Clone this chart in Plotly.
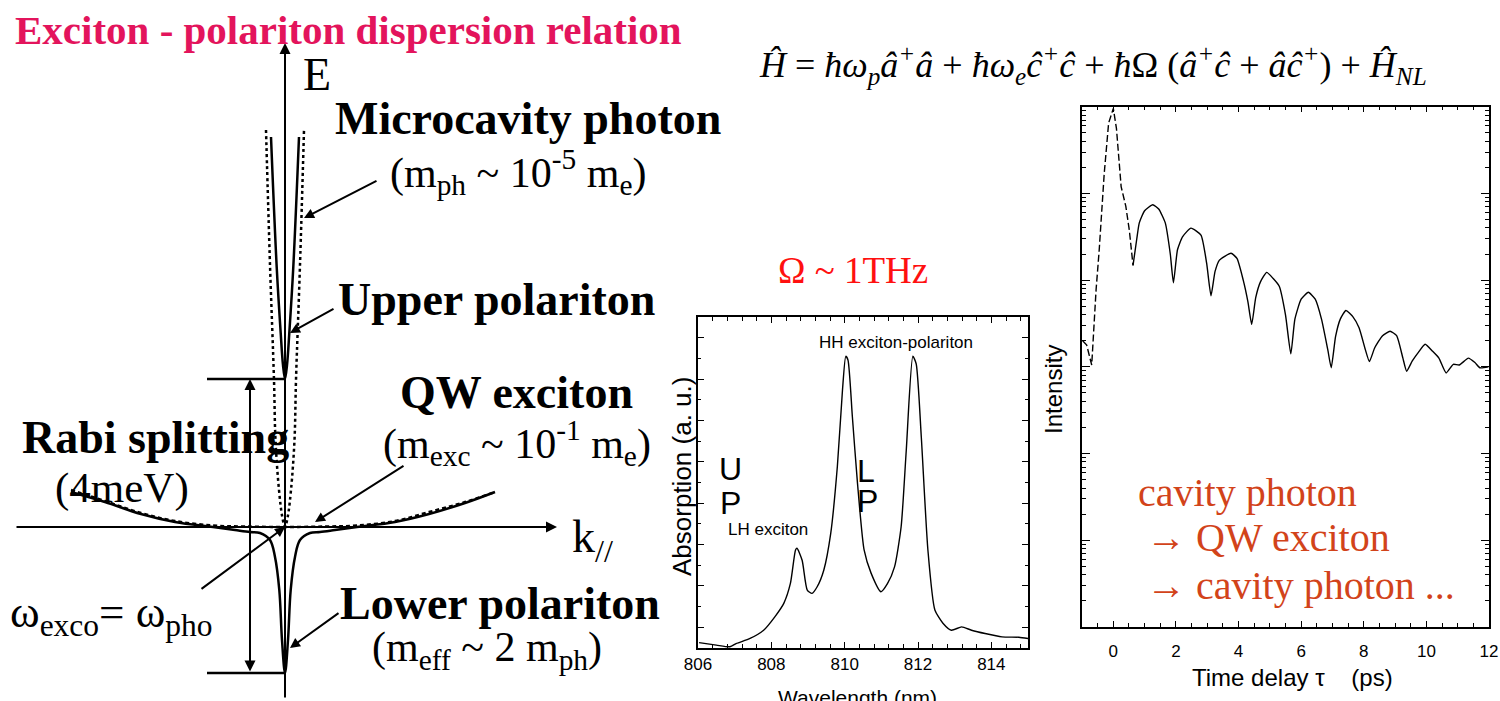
import plotly.graph_objects as go

W, H = 1500, 701
SERIF = "Liberation Serif"
SANS = "Liberation Sans"
TITLE_COLOR = "#E3145C"
NOTE_COLOR = "#D2431A"

# ---------------- dispersion sketch (arbitrary units, origin at the crossing point)
photon_k = [-19, -15, -11, -9.5, -6, -2.7, 0, 2.7, 6, 9.5, 11, 15, 19]
photon_E = [397, 262, 147, 87, 37, 10, 0, 10, 37, 87, 147, 262, 397]

exciton_k = [-214, -180, -144, -110, -72, -40, 0, 40, 72, 110, 144, 180, 210]
exciton_E = [37, 26, 14, 6, 1.5, 0.5, 0, 0.5, 1.5, 6, 15, 25, 35]

upper_k = [-14, -8.3, -4.3, -2, 0, 2, 4.3, 8.3, 14]
upper_E = [390, 260, 194, 162, 148, 162, 194, 260, 390]

lower_k = [-214, -180, -144, -110, -72, -50, -35, -25, -15, -10, -5.7, -3, 0,
           3, 5.7, 10, 15, 25, 35, 50, 72, 110, 144, 180, 210]
lower_E = [35, 25, 13, 5, 0, -3, -5, -6, -13, -30, -63, -113, -146,
           -113, -63, -30, -13, -6, -5, -3, 0, 5, 13, 24, 35]

# ---------------- absorption spectrum
wavelength_nm = [806.03, 806.5, 806.87, 807.05, 807.42, 807.79, 808.1, 808.34, 808.52,
                 808.66, 808.7, 808.84, 808.98, 809.11, 809.25, 809.43, 809.62, 809.8,
                 809.94, 810.03, 810.09, 810.21, 810.35, 810.53, 810.72, 810.99, 811.17,
                 811.36, 811.54, 811.68, 811.86, 811.95, 812.09, 812.27, 812.46, 812.68,
                 812.91, 813.19, 813.46, 813.83, 814.29, 814.75, 815.0]
absorption_au = [0.13, 0.07, 0.03, 0.11, 0.23, 0.43, 0.76, 1.08, 1.56,
                 2.37, 2.41, 2.12, 1.40, 1.32, 1.48, 1.88, 2.77, 4.38,
                 6.23, 7.05, 6.96, 5.59, 3.98, 2.37, 1.81, 1.36, 1.56,
                 1.96, 2.93, 4.78, 7.05, 6.87, 5.10, 2.37, 0.92, 0.60,
                 0.43, 0.51, 0.43, 0.35, 0.27, 0.26, 0.23]

# ---------------- time-resolved intensity (log scale)
delay_ps = [-0.98, -0.85, -0.69, -0.62, -0.55, -0.45, -0.39, -0.29, -0.15, 0.0, 0.1, 0.25,
            0.4, 0.51, 0.63, 0.75, 0.83, 1.0, 1.26, 1.45, 1.66, 1.82, 1.92, 2.05, 2.21, 2.48,
            2.8, 2.98, 3.12, 3.25, 3.39, 3.76, 3.95, 4.15, 4.3, 4.42, 4.55, 4.7, 4.9,
            5.1, 5.3, 5.5, 5.67, 5.8, 6.0, 6.23, 6.45, 6.65, 6.85, 6.96, 7.1, 7.25,
            7.43, 7.65, 7.85, 8.05, 8.18, 8.35, 8.6, 8.84, 9.05, 9.25, 9.37, 9.55,
            9.75, 9.96, 10.2, 10.4, 10.63, 10.86, 11.05, 11.34, 11.55, 11.71, 11.98]
intensity = [2000, 1780, 1050, 2820, 7760, 22400, 45700, 170000, 646000, 955000, 562000, 120000,
             70800, 38000, 14800, 30000, 45700, 63100, 74100, 66100, 45700, 20000, 9330, 22400,
             31600, 39800, 33100, 15800, 6610, 12600, 17000, 20400, 17800, 10000, 5620, 3090,
             6310, 9550, 12300, 10500, 8510, 3980, 1410, 3550, 6030, 7240, 6030, 3550, 1580,
             977, 2240, 3550, 4470, 3800, 2820, 1580, 1150, 1660, 2290, 2570, 2290, 1260, 891,
             1170, 1480, 1820, 1510, 1260, 851, 1070, 1050, 1260, 1120, 977, 1000]
first_peak_end = 15  # index where the trace turns from dashed to solid

fig = go.Figure()

# dispersion curves
fig.add_trace(go.Scatter(x=photon_k, y=photon_E, mode="lines", line_shape="spline",
                         line=dict(color="black", width=2.5, dash="3px,3px"),
                         xaxis="x", yaxis="y"))
fig.add_trace(go.Scatter(x=exciton_k, y=exciton_E, mode="lines", line_shape="spline",
                         line=dict(color="black", width=2.4, dash="4px,3px"),
                         xaxis="x", yaxis="y"))
fig.add_trace(go.Scatter(x=upper_k, y=upper_E, mode="lines", line_shape="spline",
                         line=dict(color="black", width=2.5), xaxis="x", yaxis="y"))
fig.add_trace(go.Scatter(x=lower_k, y=lower_E, mode="lines", line_shape="spline",
                         line=dict(color="black", width=2.5), xaxis="x", yaxis="y"))

# Rabi splitting bars at the two polariton minima
up_min = min(upper_E)
lp_min = min(lower_E)
rabi_bar_start = -78
for level in (up_min, lp_min):
    fig.add_trace(go.Scatter(x=[rabi_bar_start, 0], y=[level, level], mode="lines",
                             line=dict(color="black", width=2.5), xaxis="x", yaxis="y"))

# absorption spectrum
fig.add_trace(go.Scatter(x=wavelength_nm, y=absorption_au, mode="lines", line_shape="spline",
                         line=dict(color="black", width=1.4, smoothing=0.6),
                         xaxis="x2", yaxis="y2"))

# intensity vs delay
fig.add_trace(go.Scatter(x=delay_ps[:first_peak_end], y=intensity[:first_peak_end], mode="lines",
                         line=dict(color="black", width=1.4, dash="7px,3px"),
                         xaxis="x3", yaxis="y3"))
fig.add_trace(go.Scatter(x=delay_ps[first_peak_end - 1:], y=intensity[first_peak_end - 1:],
                         mode="lines", line_shape="spline",
                         line=dict(color="black", width=1.4, smoothing=0.5),
                         xaxis="x3", yaxis="y3"))


def dom_x(a, b):
    return [a / W, b / W]


def dom_y(top, bottom):
    return [1 - bottom / H, 1 - top / H]


frame = dict(showline=True, linecolor="black", linewidth=1.5, mirror="ticks",
             ticks="inside", tickcolor="black", showgrid=False, zeroline=False)

fig.update_layout(
    width=W, height=H, autosize=False,
    margin=dict(l=0, r=0, t=0, b=0, pad=0, autoexpand=False),
    paper_bgcolor="white", plot_bgcolor="rgba(0,0,0,0)", showlegend=False,
    xaxis=dict(domain=dom_x(0, 660), range=[-285, 375], visible=False, anchor="y"),
    yaxis=dict(domain=[0, 1], range=[-174, 527], visible=False, anchor="x"),
    xaxis2=dict(domain=dom_x(698, 1028), range=[806, 815], anchor="y2",
                tick0=806, dtick=2, ticklen=6,
                minor=dict(ticks="inside", dtick=0.4, tick0=806, ticklen=4, tickcolor="black"),
                tickfont=dict(family=SANS, size=17, color="black"), **frame),
    yaxis2=dict(domain=dom_y(317, 648), range=[0, 8], anchor="x2",
                tick0=0.5, dtick=1, ticklen=6, showticklabels=False,
                minor=dict(ticks="inside", dtick=0.5, tick0=0, ticklen=3, tickcolor="black"),
                **frame),
    xaxis3=dict(domain=dom_x(1082, 1489), range=[-1, 12], anchor="y3",
                tick0=0, dtick=2, ticklen=6, ticklabelstandoff=8,
                minor=dict(ticks="inside", dtick=0.5, tick0=0, ticklen=4, tickcolor="black"),
                tickfont=dict(family=SANS, size=17, color="black"), **frame),
    yaxis3=dict(domain=dom_y(106.7, 627), type="log", range=[0, 6], anchor="x3",
                dtick=1, ticklen=8, showticklabels=False,
                minor=dict(ticks="inside", dtick="D1", ticklen=4, tickcolor="black"),
                **frame),
)

ann = []


def arrow(head, tail, width=2.0, size=1.0, side="end"):
    a = dict(x=head[0], y=head[1], ax=tail[0], ay=tail[1], xref="x", yref="y",
             axref="x", ayref="y", text="", showarrow=True, arrowhead=2,
             arrowsize=size, arrowwidth=width, arrowcolor="black", arrowside=side,
             standoff=0, startstandoff=0)
    if "start" in side:
        a["startarrowhead"] = 2
        a["startarrowsize"] = size
    return a


# energy and wave-vector axes
ann.append(arrow((0, 484), (0, -172), width=2, size=1.1))
ann.append(arrow((272, 0), (-270, 0), width=2, size=1.1))
# Rabi splitting double arrow
ann.append(arrow((-35, up_min), (-35, lp_min), width=2, size=1.1, side="end+start"))
# pointers to the curves
ann.append(arrow((19, 309), (93, 347)))
ann.append(arrow((5, 194), (50, 219)))
ann.append(arrow((30, 5), (120, 62)))
ann.append(arrow((0, 0), (-85, -63)))
ann.append(arrow((5, -121), (55, -85)))


def label(x, y, text, size, color="black", family=SERIF, xanchor="left", angle=0,
          ref="paper"):
    if ref == "paper":
        xx, yy, xr, yr = x / W, 1 - y / H, "paper", "paper"
    else:
        xx, yy, xr, yr = x, y, ref[0], ref[1]
    return dict(x=xx, y=yy, xref=xr, yref=yr, text=text, showarrow=False,
                xanchor=xanchor, yanchor="middle", textangle=angle, borderpad=0,
                font=dict(family=family, size=size, color=color))


ann += [
    label(14, 30, "<b>Exciton - polariton dispersion relation</b>", 41, TITLE_COLOR),
    label(302, 74, "E", 46),
    label(334, 118, "<b>Microcavity photon</b>", 46),
    label(389, 172, "(m<sub>ph</sub> ~ 10<sup>-5</sup> m<sub>e</sub>)", 42),
    label(337, 300, "<b>Upper polariton</b>", 46),
    label(399, 392, "<b>QW exciton</b>", 46),
    label(382, 443, "(m<sub>exc</sub> ~ 10<sup>-1</sup> m<sub>e</sub>)", 42),
    label(21, 437, "<b>Rabi splitting</b>", 46),
    label(54, 488, "(4meV)", 43),
    label(571, 540, "k<sub>//</sub>", 46),
    label(9, 615, "ω<sub>exco</sub>= ω<sub>pho</sub>", 45),
    label(339, 603, "<b>Lower polariton</b>", 46),
    label(371, 650, "(m<sub>eff</sub> ~ 2 m<sub>ph</sub>)", 42),
    # model Hamiltonian
    label(758, 65,
          "<i>Ĥ</i>\u00a0=\u00a0<i>ħω<sub>p</sub>â<sup>+</sup>â</i>\u00a0+\u00a0"
          "<i>ħω<sub>e</sub>ĉ<sup>+</sup>ĉ</i>\u00a0+\u00a0<i>ħ</i>Ω\u00a0(<i>â<sup>+</sup>ĉ</i>"
          "\u00a0+\u00a0<i>âĉ<sup>+</sup></i>)\u00a0+\u00a0<i>Ĥ<sub>NL</sub></i>", 36),
    # absorption panel
    label(853, 270, "Ω ~ 1THz", 37, "#FF1010", xanchor="center"),
    label(811.41, 7.39, "HH exciton-polariton", 17, family=SANS, xanchor="center",
          ref=("x2", "y2")),
    label(806.88, 4.33, "U", 32, family=SANS, xanchor="center", ref=("x2", "y2")),
    label(806.88, 3.50, "P", 32, family=SANS, xanchor="center", ref=("x2", "y2")),
    label(806.80, 2.86, "LH exciton", 17, family=SANS, ref=("x2", "y2")),
    label(810.58, 4.27, "L", 32, family=SANS, xanchor="center", ref=("x2", "y2")),
    label(810.62, 3.55, "P", 32, family=SANS, xanchor="center", ref=("x2", "y2")),
    label(682, 477, "Absorption (a. u.)", 26, family=SANS, xanchor="center", angle=-90),
    label(857, 697, "Wavelength (nm)", 21, family=SANS, xanchor="center"),
    # delay panel
    label(1053, 390, "Intensity", 24, family=SANS, xanchor="center", angle=-90),
    label(1292, 677, "Time delay τ\u00a0\u00a0\u00a0\u00a0(ps)", 24, family=SANS, xanchor="center"),
    label(1137, 492, "cavity photon", 40, NOTE_COLOR),
    label(1145, 537, "→ QW exciton", 40, NOTE_COLOR),
    label(1145, 585, "→ cavity photon ...", 40, NOTE_COLOR),
]

fig.update_layout(annotations=ann)
fig.write_html("out.html", config={"displayModeBar": False})
